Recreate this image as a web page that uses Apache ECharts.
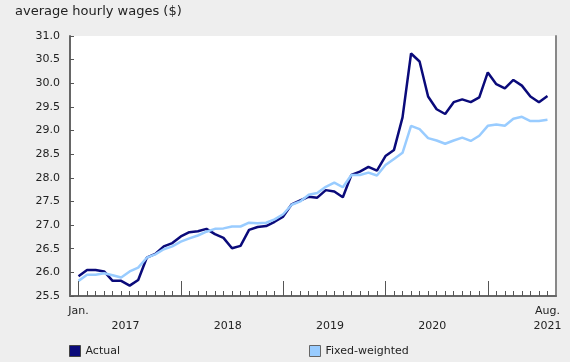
<!DOCTYPE html>
<html>
<head>
<meta charset="utf-8">
<script src="https://cdn.jsdelivr.net/npm/echarts@6/dist/echarts.min.js"></script>
<style>
html,body{margin:0;padding:0;background:#eeeeee;}
#chart{width:570px;height:362px;}
</style>
</head>
<body>
<div id="chart"></div>
<script>
const months = [
  "2017-01","2017-02","2017-03","2017-04","2017-05","2017-06","2017-07","2017-08","2017-09","2017-10","2017-11","2017-12",
  "2018-01","2018-02","2018-03","2018-04","2018-05","2018-06","2018-07","2018-08","2018-09","2018-10","2018-11","2018-12",
  "2019-01","2019-02","2019-03","2019-04","2019-05","2019-06","2019-07","2019-08","2019-09","2019-10","2019-11","2019-12",
  "2020-01","2020-02","2020-03","2020-04","2020-05","2020-06","2020-07","2020-08","2020-09","2020-10","2020-11","2020-12",
  "2021-01","2021-02","2021-03","2021-04","2021-05","2021-06","2021-07","2021-08"
];
const actual = [
  25.92,26.05,26.05,26.02,25.82,25.82,25.72,25.84,26.31,26.39,26.55,26.62,
  26.76,26.85,26.87,26.92,26.81,26.73,26.51,26.56,26.90,26.96,26.98,27.07,
  27.18,27.44,27.52,27.60,27.58,27.74,27.71,27.59,28.06,28.13,28.23,28.15,
  28.46,28.59,29.28,30.63,30.46,29.72,29.45,29.35,29.60,29.66,29.60,29.70,
  30.23,29.98,29.89,30.07,29.95,29.72,29.60,29.73
];
const fixedWeighted = [
  25.82,25.95,25.95,25.98,25.94,25.89,26.02,26.10,26.31,26.38,26.49,26.55,
  26.65,26.72,26.78,26.86,26.92,26.93,26.97,26.97,27.05,27.04,27.05,27.12,
  27.23,27.43,27.50,27.64,27.68,27.81,27.90,27.80,28.06,28.06,28.11,28.05,
  28.27,28.40,28.53,29.10,29.03,28.84,28.79,28.72,28.79,28.85,28.78,28.89,
  29.10,29.13,29.10,29.25,29.29,29.20,29.20,29.23
];
const seriesNames = ["Actual", "Fixed-weighted"];
const periodLabels = ["Jan.", "Aug."];
const yearLabels = ["2017", "2018", "2019", "2020", "2021"];
const yTitle = "average hourly wages ($)";

const FONT = "DejaVu Sans";
const monthIdx = months.map((m, i) => i);
const yearStartIdx = months.map((m, i) => i).filter(i => months[i].endsWith("-01"));
const periodPos = [0, months.length - 1];
const yearPos = yearLabels.map((y, k) => {
  const idx = months.map((m, i) => i).filter(i => months[i].startsWith(y));
  return k === yearLabels.length - 1 ? idx[idx.length - 1] : (idx[0] + idx[idx.length - 1]) / 2;
});

const chart = echarts.init(document.getElementById("chart"), null, {renderer: "canvas"});
const labelBase = {fontFamily: FONT, fontSize: 11, color: "#222"};

chart.setOption({
  backgroundColor: "#eeeeee",
  animation: false,
  title: {
    text: yTitle, left: 15, top: 5, padding: 0,
    textStyle: {fontFamily: FONT, fontSize: 13, fontWeight: "normal", color: "#222"}
  },
  legend: [
    {data: [seriesNames[0]], left: 69, top: 345, padding: 0, icon: "rect", itemWidth: 11, itemHeight: 11, itemGap: 4,
     itemStyle: {borderColor: "#444", borderWidth: 1}, textStyle: labelBase},
    {data: [seriesNames[1]], left: 309, top: 345, padding: 0, icon: "rect", itemWidth: 11, itemHeight: 11, itemGap: 4,
     itemStyle: {borderColor: "#666", borderWidth: 1}, textStyle: labelBase}
  ],
  grid: {left: 70, right: 14, top: 36, bottom: 66, show: true, backgroundColor: "#ffffff", borderWidth: 0},
  xAxis: [
    {
      type: "value", min: -1, max: 56, position: "bottom",
      axisLine: {show: true, onZero: false, lineStyle: {color: "#666", width: 2}},
      axisTick: {show: true, inside: true, length: 5, customValues: monthIdx, lineStyle: {color: "#555", width: 1}},
      axisLabel: Object.assign({customValues: periodPos, margin: 10,
        formatter: v => periodLabels[periodPos.indexOf(v)] || ""}, labelBase),
      splitLine: {show: false}
    },
    {
      type: "value", min: -1, max: 56, position: "bottom",
      axisLine: {show: false, onZero: false},
      axisTick: {show: true, inside: true, length: 15, customValues: yearStartIdx, lineStyle: {color: "#555", width: 1}},
      axisLabel: Object.assign({customValues: yearPos, margin: 25,
        formatter: v => yearLabels[yearPos.indexOf(v)] || ""}, labelBase),
      splitLine: {show: false}
    }
  ],
  yAxis: [
    {
      type: "value", min: 25.5, max: 31, interval: 0.5, position: "left",
      axisLine: {show: true, onZero: false, lineStyle: {color: "#666", width: 2}},
      axisTick: {show: true, inside: true, length: 4, lineStyle: {color: "#555", width: 1}},
      axisLabel: Object.assign({margin: 10, formatter: v => v.toFixed(1)}, labelBase),
      splitLine: {show: false}
    },
    {
      type: "value", min: 25.5, max: 31, interval: 0.5, position: "right",
      axisLine: {show: true, onZero: false, lineStyle: {color: "#888", width: 2}},
      axisTick: {show: false}, axisLabel: {show: false}, splitLine: {show: false}
    }
  ],
  series: [
    {
      name: seriesNames[0], type: "line", xAxisIndex: 0, yAxisIndex: 0,
      data: actual.map((v, i) => [i, v]),
      symbol: "none", color: "#0a0a7a",
      lineStyle: {width: 2.5, color: "#0a0a7a"}
    },
    {
      name: seriesNames[1], type: "line", xAxisIndex: 0, yAxisIndex: 0,
      data: fixedWeighted.map((v, i) => [i, v]),
      symbol: "none", color: "#99ccff",
      lineStyle: {width: 2.5, color: "#99ccff"}
    }
  ]
});
</script>
</body>
</html>
